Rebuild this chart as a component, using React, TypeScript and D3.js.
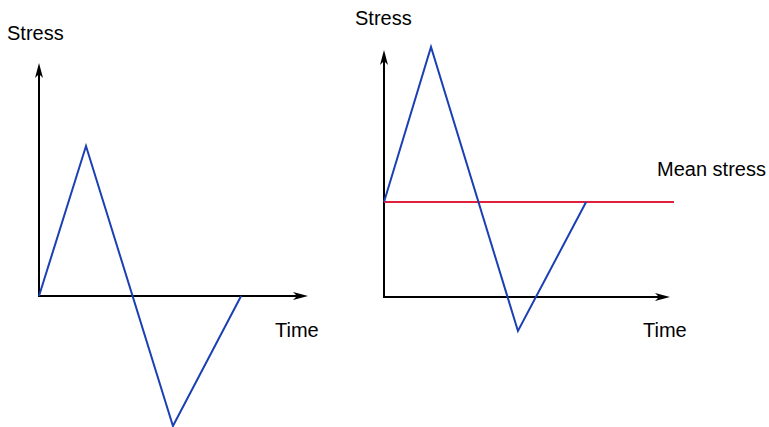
import React from "react";
import * as d3 from "d3";

const timePoints = [0, 1, 2.85, 4.3];
const leftStress = [0, 15, -13, 0];
const rightStress = [9.5, 25, -3.4, 9.5];
const meanStress = 9.5;
const meanStressEnd = 6.17;
const axisLabels = { y: "Stress", x: "Time", mean: "Mean stress" };

const W = 769;
const H = 427;
const BLUE = "#1b3fb4";
const RED = "#e0203c";

function Arrow({ x1, y1, x2, y2 }: { x1: number; y1: number; x2: number; y2: number }) {
  const ang = Math.atan2(y2 - y1, x2 - x1);
  const L = 15, w = 4;
  const bx = x2 - L * Math.cos(ang), by = y2 - L * Math.sin(ang);
  const px = -Math.sin(ang) * w, py = Math.cos(ang) * w;
  const nx = x2 - (L - 4) * Math.cos(ang), ny = y2 - (L - 4) * Math.sin(ang);
  return (
    <g>
      <line x1={x1} y1={y1} x2={nx} y2={ny} stroke="#000" strokeWidth={2} />
      <path d={`M${x2},${y2} L${bx + px},${by + py} L${nx},${ny} L${bx - px},${by - py} Z`} fill="#000" />
    </g>
  );
}

function Panel({ ox, oy, yTop, xEnd, stress, mean, labelY, labelX }: any) {
  const x = d3.scaleLinear().domain([0, 1]).range([ox, ox + 47]);
  const y = d3.scaleLinear().domain([0, 1]).range([oy, oy - 10]);
  const pts: [number, number][] = timePoints.map((t, i) => [t, stress[i]]);
  const line = d3.line<[number, number]>().x((d) => x(d[0])).y((d) => y(d[1]));
  return (
    <g>
      <Arrow x1={ox} y1={oy} x2={ox} y2={yTop} />
      <Arrow x1={ox - 1} y1={oy} x2={xEnd} y2={oy} />
      {mean !== undefined && (
        <line x1={x(0)} x2={x(meanStressEnd)} y1={y(mean)} y2={y(mean)} stroke={RED} strokeWidth={2} />
      )}
      <path d={line(pts) || ""} fill="none" stroke={BLUE} strokeWidth={2} />
      <text x={labelY[0]} y={labelY[1]} fontSize={20} fontFamily="Liberation Sans, Arial, sans-serif">
        {axisLabels.y}
      </text>
      <text x={labelX[0]} y={labelX[1]} fontSize={20} fontFamily="Liberation Sans, Arial, sans-serif">
        {axisLabels.x}
      </text>
    </g>
  );
}

export default function App() {
  return (
    <svg width={W} height={H} style={{ position: "absolute", left: 0, top: 0, background: "#fff" }}>
      <rect width={W} height={H} fill="#fff" />
      <Panel ox={39} oy={296} yTop={63} xEnd={308} stress={leftStress} labelY={[7, 40]} labelX={[275, 337]} />
      <Panel ox={384} oy={297} yTop={50} xEnd={670} stress={rightStress} mean={meanStress} labelY={[355, 25]} labelX={[643, 337]} />
      <text x={657} y={176} fontSize={20} fontFamily="Liberation Sans, Arial, sans-serif">
        {axisLabels.mean}
      </text>
    </svg>
  );
}
